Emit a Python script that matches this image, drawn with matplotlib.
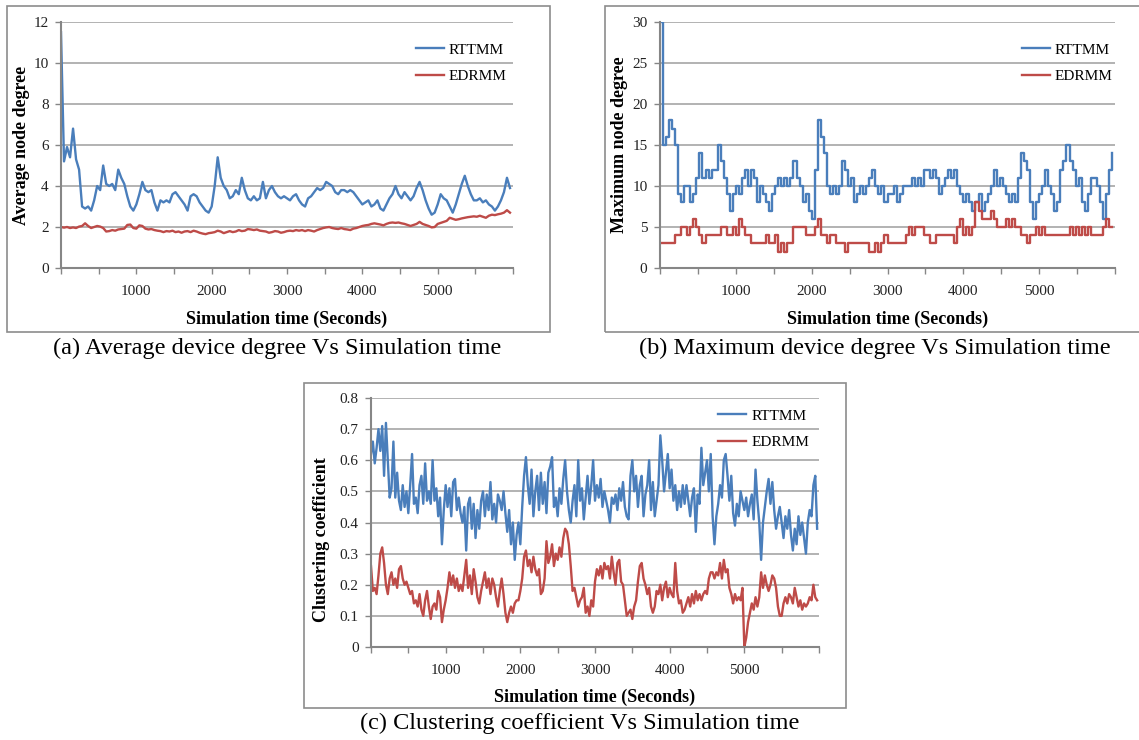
import numpy as np
import matplotlib
matplotlib.use('Agg')
import matplotlib.pyplot as plt
from matplotlib.patches import Rectangle

plt.rcParams['font.family'] = ['Liberation Serif', 'DejaVu Serif']

# sample spacing of the series (seconds)
step_ab = 40
step_c = 25

series_names = ['RTTMM', 'EDRMM']
xlabels_shown = [1000, 2000, 3000, 4000, 5000]

## (a) average node degree
avg_rttmm = [11.5, 5.2, 5.9, 5.4, 6.8, 5.3, 4.8, 3.0, 2.9, 3.0,
             2.8, 3.3, 4.0, 3.8, 5.0, 4.1, 4.0, 4.1, 3.8, 4.8,
             4.4, 4.1, 3.5, 3.0, 2.8, 3.1, 3.6, 4.2, 3.8, 3.7,
             3.8, 3.2, 2.8, 3.3, 3.2, 3.3, 3.2, 3.6, 3.7, 3.5,
             3.3, 3.1, 2.8, 3.5, 3.6, 3.5, 3.2, 3.0, 2.8, 2.7,
             3.0, 4.0, 5.4, 4.4, 4.0, 3.8, 3.4, 3.5, 3.8, 3.6,
             4.4, 3.8, 3.4, 3.3, 3.5, 3.3, 3.4, 4.2, 3.4, 3.8,
             4.0, 3.7, 3.5, 3.4, 3.5, 3.4, 3.3, 3.5, 3.6, 3.3,
             3.1, 3.0, 3.4, 3.5, 3.7, 3.9, 3.8, 3.9, 4.2, 4.1,
             4.0, 3.7, 3.6, 3.8, 3.8, 3.7, 3.8, 3.7, 3.5, 3.3,
             3.1, 3.2, 3.3, 3.0, 3.1, 3.3, 2.9, 2.8, 3.1, 3.4,
             3.6, 4.0, 3.6, 3.4, 3.7, 3.5, 3.3, 3.5, 3.9, 4.2,
             3.8, 3.3, 2.9, 2.6, 2.7, 3.1, 3.6, 3.4, 3.3, 3.0,
             2.7, 3.1, 3.6, 4.1, 4.5, 4.0, 3.6, 3.3, 3.3, 3.4,
             3.2, 3.3, 3.1, 3.0, 2.8, 3.0, 3.3, 3.7, 4.4, 3.9]
avg_edrmm = [2.0, 1.97, 2.0, 1.95, 1.98, 1.95, 2.02, 2.05, 2.18, 2.05,
             1.95, 2.0, 2.05, 2.02, 1.95, 1.78, 1.8, 1.85, 1.82, 1.88,
             1.9, 1.92, 2.1, 2.12, 1.95, 1.92, 2.08, 2.05, 1.92, 1.88,
             1.9, 1.85, 1.82, 1.8, 1.75, 1.8, 1.78, 1.82, 1.75, 1.78,
             1.72, 1.78, 1.8, 1.75, 1.82, 1.78, 1.72, 1.68, 1.65, 1.7,
             1.72, 1.75, 1.82, 1.78, 1.7, 1.75, 1.8, 1.75, 1.78, 1.85,
             1.8, 1.82, 1.9, 1.88, 1.85, 1.88, 1.82, 1.8, 1.78, 1.72,
             1.75, 1.8, 1.78, 1.72, 1.75, 1.8, 1.82, 1.8, 1.85, 1.82,
             1.85, 1.8, 1.85, 1.82, 1.78, 1.85, 1.9, 1.95, 1.98, 2.0,
             1.95, 1.92, 1.9, 1.95, 1.9, 1.88, 1.85, 1.92, 1.95, 2.0,
             2.05, 2.08, 2.1, 2.15, 2.18, 2.15, 2.12, 2.08, 2.15, 2.2,
             2.22, 2.2, 2.22, 2.18, 2.15, 2.1, 2.05, 2.1, 2.15, 2.25,
             2.15, 2.1, 2.05, 1.98, 2.0, 2.15, 2.2, 2.25, 2.3, 2.45,
             2.4, 2.35, 2.38, 2.42, 2.45, 2.48, 2.5, 2.52, 2.5, 2.55,
             2.5, 2.45, 2.55, 2.6, 2.58, 2.62, 2.65, 2.7, 2.82, 2.7]

## (b) maximum node degree
max_rttmm = [30, 15, 16, 18, 17, 15, 9, 8, 10, 10,
             8, 9, 11, 14, 11, 12, 11, 12, 12, 15,
             13, 11, 9, 7, 9, 10, 9, 11, 12, 10,
             12, 11, 8, 10, 9, 8, 7, 9, 10, 11,
             10, 11, 10, 11, 13, 11, 10, 8, 9, 7,
             6, 12, 18, 16, 14, 10, 9, 10, 9, 10,
             13, 12, 10, 11, 8, 9, 10, 9, 10, 11,
             12, 10, 9, 10, 8, 9, 9, 10, 8, 9,
             10, 10, 10, 11, 10, 11, 10, 12, 12, 11,
             12, 11, 9, 10, 11, 12, 11, 12, 10, 9,
             8, 9, 8, 7, 8, 9, 7, 8, 9, 10,
             12, 10, 11, 10, 9, 8, 9, 8, 11, 14,
             13, 12, 8, 6, 8, 9, 10, 12, 10, 9,
             7, 8, 12, 13, 15, 13, 12, 10, 11, 8,
             7, 9, 11, 11, 10, 8, 6, 9, 12, 14]
max_edrmm = [3, 3, 3, 3, 3, 4, 4, 5, 5, 4,
             5, 6, 5, 4, 3, 4, 4, 4, 4, 4,
             5, 5, 4, 4, 5, 4, 6, 5, 4, 4,
             3, 3, 3, 3, 3, 4, 3, 3, 4, 2,
             3, 2, 3, 3, 5, 5, 5, 5, 4, 4,
             4, 5, 6, 4, 4, 3, 4, 4, 3, 3,
             3, 2, 3, 3, 3, 3, 3, 3, 3, 2,
             2, 3, 2, 3, 4, 3, 3, 3, 3, 3,
             3, 4, 5, 4, 5, 5, 5, 4, 4, 3,
             3, 4, 4, 4, 4, 4, 4, 3, 5, 6,
             4, 5, 4, 5, 8, 7, 6, 6, 6, 7,
             6, 5, 5, 5, 6, 5, 6, 5, 5, 4,
             4, 3, 4, 4, 5, 4, 5, 4, 4, 4,
             4, 4, 4, 4, 4, 5, 4, 5, 4, 5,
             4, 5, 4, 4, 4, 4, 5, 6, 5, 5]

## (c) clustering coefficient
clu_rttmm = [0.62, 0.66, 0.59, 0.64, 0.70, 0.63, 0.71, 0.55, 0.72, 0.60,
             0.48, 0.51, 0.66, 0.48, 0.56, 0.47, 0.44, 0.52, 0.45, 0.50,
             0.43, 0.52, 0.62, 0.46, 0.48, 0.43, 0.52, 0.55, 0.46, 0.59,
             0.47, 0.50, 0.46, 0.60, 0.47, 0.51, 0.42, 0.48, 0.33, 0.44,
             0.52, 0.45, 0.51, 0.42, 0.53, 0.54, 0.44, 0.48, 0.43, 0.40,
             0.45, 0.31, 0.46, 0.48, 0.38, 0.46, 0.35, 0.44, 0.38, 0.47,
             0.50, 0.42, 0.49, 0.44, 0.53, 0.41, 0.46, 0.40, 0.49, 0.47,
             0.44, 0.50, 0.43, 0.37, 0.44, 0.33, 0.40, 0.28, 0.36, 0.40,
             0.33, 0.45, 0.55, 0.61, 0.52, 0.46, 0.57, 0.42, 0.50, 0.55,
             0.44, 0.56, 0.46, 0.53, 0.43, 0.56, 0.58, 0.61, 0.45, 0.48,
             0.42, 0.51, 0.46, 0.54, 0.60, 0.50, 0.44, 0.40, 0.47, 0.52,
             0.42, 0.60, 0.47, 0.51, 0.41, 0.48, 0.55, 0.46, 0.52, 0.60,
             0.47, 0.52, 0.48, 0.54, 0.45, 0.50, 0.47, 0.44, 0.40, 0.48,
             0.46, 0.49, 0.44, 0.51, 0.47, 0.53, 0.45, 0.42, 0.41, 0.55,
             0.60, 0.50, 0.55, 0.45, 0.52, 0.55, 0.42, 0.49, 0.52, 0.60,
             0.44, 0.53, 0.42, 0.47, 0.52, 0.68, 0.60, 0.50, 0.56, 0.62,
             0.51, 0.57, 0.47, 0.52, 0.44, 0.50, 0.45, 0.52, 0.46, 0.52,
             0.47, 0.42, 0.48, 0.51, 0.37, 0.49, 0.46, 0.64, 0.52, 0.56,
             0.60, 0.50, 0.62, 0.42, 0.33, 0.42, 0.46, 0.52, 0.48, 0.60,
             0.62, 0.55, 0.47, 0.55, 0.43, 0.39, 0.46, 0.42, 0.50, 0.47,
             0.44, 0.48, 0.42, 0.46, 0.49, 0.41, 0.57, 0.47, 0.40, 0.28,
             0.40, 0.45, 0.50, 0.54, 0.46, 0.53, 0.44, 0.38, 0.42, 0.45,
             0.40, 0.35, 0.42, 0.38, 0.44, 0.36, 0.31, 0.38, 0.33, 0.42,
             0.36, 0.40, 0.35, 0.30, 0.40, 0.44, 0.42, 0.52, 0.55, 0.38]
clu_edrmm = [0.26, 0.18, 0.19, 0.17, 0.23, 0.30, 0.32, 0.27, 0.20, 0.17,
             0.22, 0.24, 0.20, 0.22, 0.19, 0.25, 0.26, 0.22, 0.20, 0.21,
             0.19, 0.17, 0.18, 0.14, 0.15, 0.13, 0.17, 0.12, 0.10, 0.15,
             0.18, 0.13, 0.09, 0.13, 0.14, 0.12, 0.18, 0.16, 0.08, 0.12,
             0.15, 0.19, 0.24, 0.20, 0.23, 0.19, 0.22, 0.18, 0.20, 0.18,
             0.23, 0.28, 0.19, 0.23, 0.17, 0.25, 0.21, 0.16, 0.14, 0.18,
             0.21, 0.24, 0.19, 0.22, 0.17, 0.22, 0.20, 0.16, 0.13, 0.18,
             0.22, 0.17, 0.11, 0.08, 0.11, 0.13, 0.11, 0.14, 0.15, 0.15,
             0.18, 0.22, 0.29, 0.31, 0.26, 0.28, 0.24, 0.29, 0.25, 0.23,
             0.25, 0.17, 0.18, 0.22, 0.34, 0.27, 0.29, 0.33, 0.26, 0.30,
             0.28, 0.32, 0.29, 0.35, 0.38, 0.37, 0.33, 0.26, 0.18, 0.19,
             0.16, 0.13, 0.15, 0.16, 0.19, 0.11, 0.13, 0.10, 0.15, 0.13,
             0.21, 0.25, 0.23, 0.26, 0.22, 0.27, 0.25, 0.26, 0.22, 0.29,
             0.24, 0.20, 0.27, 0.28, 0.21, 0.20, 0.15, 0.10, 0.11, 0.12,
             0.09, 0.13, 0.15, 0.21, 0.26, 0.27, 0.22, 0.20, 0.17, 0.19,
             0.13, 0.11, 0.13, 0.18, 0.17, 0.20, 0.15, 0.19, 0.21, 0.16,
             0.19, 0.17, 0.16, 0.27, 0.18, 0.14, 0.15, 0.11, 0.12, 0.14,
             0.16, 0.13, 0.17, 0.14, 0.18, 0.15, 0.17, 0.15, 0.17, 0.18,
             0.17, 0.22, 0.24, 0.24, 0.22, 0.24, 0.23, 0.27, 0.22, 0.28,
             0.24, 0.25, 0.19, 0.17, 0.14, 0.17, 0.15, 0.16, 0.15, 0.19,
             0.00, 0.03, 0.08, 0.11, 0.14, 0.12, 0.16, 0.13, 0.16, 0.24,
             0.19, 0.23, 0.20, 0.18, 0.20, 0.23, 0.22, 0.19, 0.13, 0.10,
             0.10, 0.14, 0.16, 0.14, 0.17, 0.16, 0.14, 0.19, 0.16, 0.13,
             0.15, 0.12, 0.14, 0.13, 0.14, 0.16, 0.15, 0.20, 0.16, 0.15]

blue = '#4a7ebb'
red = '#be4b48'
W, H = 1139.0, 740.0

fig = plt.figure(figsize=(W / 100, H / 100), dpi=100)


def px_box(x0, y0, x1, y1):
    # pixel box (top-left origin) -> figure fraction rect
    return [x0 / W, 1 - y1 / H, (x1 - x0) / W, (y1 - y0) / H]


def make_panel(box, frame, ylim, ystep, yfmt, ylabel, ylab_xy, caption, cap_xy,
               vals, step, leg_x, steps=False):
    fr = px_box(*frame)
    fig.add_artist(Rectangle((fr[0], fr[1]), fr[2], fr[3], transform=fig.transFigure,
                             fill=False, edgecolor='#8c8c8c', lw=1.2))
    ax = fig.add_axes(px_box(*box))
    for v, c, name in zip(vals, [blue, red], series_names):
        t = np.arange(len(v)) * step
        ax.plot(t, v, color=c, lw=1.7, label=name,
                drawstyle='steps-post' if steps else 'default')
    ax.set_xlim(0, 6000)
    ax.set_ylim(0, ylim)
    xt = np.arange(0, 6001, 500)
    ax.set_xticks(xt)
    ax.set_xticklabels([str(x) if x in xlabels_shown else '' for x in xt])
    yt = np.arange(0, ylim + ystep / 2, ystep)
    ax.set_yticks(yt)
    ax.set_yticklabels([yfmt(y) for y in yt])
    ax.yaxis.grid(True, color='#a6a6a6', lw=1.2)
    ax.set_axisbelow(True)
    for s in ['top', 'right']:
        ax.spines[s].set_visible(False)
    for s in ['left', 'bottom']:
        ax.spines[s].set_color('#868686')
        ax.spines[s].set_linewidth(1.5)
    ax.tick_params(axis='both', direction='out', length=4, width=1, color='#868686',
                   labelsize=11, labelcolor='#222222')
    ax.tick_params(axis='x', pad=8)
    ax.tick_params(axis='y', pad=5)
    # axis titles placed in pixels
    cx = (box[0] + box[2]) / 2.0
    fig.text(cx / W, 1 - 319 / H if box[3] < 400 else 1 - 697 / H,
             'Simulation time (Seconds)', ha='center', va='center',
             fontsize=13, fontweight='bold')
    fig.text(ylab_xy[0] / W, 1 - ylab_xy[1] / H, ylabel, rotation=90,
             ha='center', va='center', fontsize=13, fontweight='bold')
    fig.text(cap_xy[0] / W, 1 - cap_xy[1] / H, caption, ha='center', va='center',
             fontsize=17.5)
    ax.legend(loc='upper left', bbox_to_anchor=(leg_x[0], leg_x[1]), frameon=False,
              fontsize=11, handlelength=1.85, handletextpad=0.3, labelspacing=0.85,
              borderpad=0, borderaxespad=0)
    return ax


def fmt_int(y):
    return '%d' % round(y)


def fmt_dec(y):
    return '0' if abs(y) < 1e-9 else ('%.1f' % y)


make_panel((61, 22, 513, 268), (7, 6, 550, 332), 12, 2, fmt_int,
           'Average node degree', (22, 145),
           '(a) Average device degree Vs Simulation time', (277, 348),
           [avg_rttmm, avg_edrmm], step_ab, (0.785, 0.915))

make_panel((660, 22, 1115, 268), (605, 6, 1145, 332), 30, 5, fmt_int,
           'Maximum node degree', (619, 145),
           '(b) Maximum device degree Vs Simulation time', (875, 348),
           [max_rttmm, max_edrmm], step_ab, (0.796, 0.915), steps=True)

make_panel((371, 398, 819, 647), (304, 383, 846, 708), 0.8, 0.1, fmt_dec,
           'Clustering coefficient', (321, 540),
           '(c) Clustering coefficient Vs Simulation time', (580, 723),
           [clu_rttmm, clu_edrmm], step_c, (0.775, 0.956))

fig.savefig('out.png', dpi=100)
